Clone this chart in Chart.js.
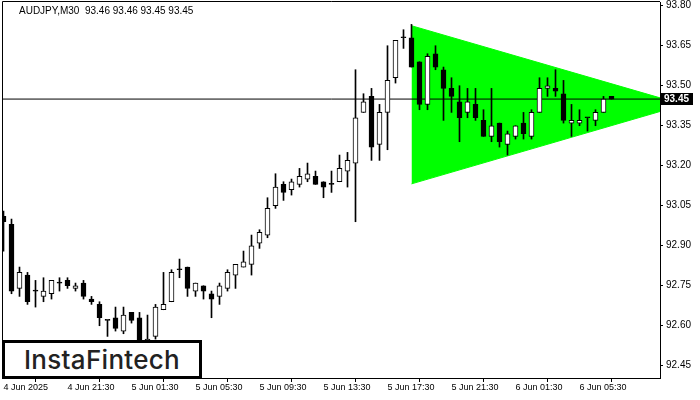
<!DOCTYPE html>
<html><head><meta charset="utf-8">
<script src="https://cdn.jsdelivr.net/npm/chart.js@4.4.1/dist/chart.umd.min.js"></script>
<style>
html,body{margin:0;padding:0;background:#fff;}
#wrap{position:relative;width:700px;height:400px;overflow:hidden;}
#c{display:block;}
#logo{position:absolute;left:2px;top:340px;width:194px;height:33px;border:3px solid #000;background:#fff;
font:500 26px Inter, "Noto Sans", sans-serif;color:#222;display:flex;align-items:center;justify-content:center;letter-spacing:0.3px;}
</style></head><body>
<div id="wrap"><canvas id="c" width="700" height="400" style="width:700px;height:400px"></canvas><div id="logo">InstaFintech</div></div>
<script>
const title = "AUDJPY,M30  93.46 93.46 93.45 93.45";
const xTickIdx = [0,8,16,24,32,40,48,56,64,72];
const xTickLabels = ["4 Jun 2025","4 Jun 21:30","5 Jun 01:30","5 Jun 05:30","5 Jun 09:30","5 Jun 13:30","5 Jun 17:30","5 Jun 21:30","6 Jun 01:30","6 Jun 05:30"];
const yTicks = [92.45,92.60,92.75,92.90,93.05,93.20,93.35,93.50,93.65,93.80];

const open = [93.01,92.98,92.74,92.79,92.73,92.71,92.72,92.76,92.77,92.74,
92.76,92.70,92.68,92.62,92.63,92.58,92.65,92.63,92.54,92.56,
92.66,92.69,92.81,92.82,92.73,92.75,92.72,92.71,92.74,92.79,
92.82,92.83,92.91,92.94,93.05,93.13,93.11,93.13,93.15,93.16,
93.14,93.13,93.14,93.18,93.21,93.40,93.46,93.28,93.40,93.53,
93.68,93.68,93.59,93.43,93.62,93.56,93.49,93.44,93.40,93.43,
93.37,93.31,93.36,93.28,93.31,93.36,93.31,93.40,93.49,93.49,
93.47,93.36,93.36,93.38,93.37,93.40,93.46];
const high = [93.03,93.00,92.82,92.80,92.77,92.78,92.77,92.78,92.78,92.76,
92.77,92.71,92.69,92.62,92.67,92.67,92.65,92.65,92.64,92.68,
92.80,92.81,92.85,92.82,92.76,92.75,92.73,92.76,92.81,92.83,
92.88,92.94,92.96,93.08,93.17,93.14,93.15,93.19,93.21,93.18,
93.14,93.18,93.24,93.25,93.56,93.47,93.49,93.43,93.65,93.67,
93.71,93.73,93.59,93.62,93.65,93.57,93.53,93.50,93.49,93.49,
93.41,93.49,93.36,93.33,93.35,93.40,93.41,93.53,93.53,93.56,
93.52,93.43,93.41,93.38,93.41,93.46,93.46];
const low = [92.88,92.72,92.71,92.68,92.67,92.69,92.70,92.73,92.74,92.73,
92.70,92.68,92.60,92.56,92.58,92.57,92.61,92.51,92.52,92.55,
92.66,92.69,92.78,92.71,92.71,92.70,92.63,92.68,92.73,92.74,
92.82,92.79,92.89,92.93,93.04,93.07,93.09,93.12,93.14,93.13,
93.08,93.10,93.14,93.12,92.99,93.40,93.22,93.22,93.26,93.51,
93.64,93.57,93.41,93.41,93.56,93.37,93.40,93.29,93.38,93.37,
93.31,93.29,93.27,93.24,93.30,93.30,93.30,93.40,93.46,93.46,
93.36,93.31,93.35,93.33,93.35,93.40,93.45];
const close = [92.99,92.73,92.80,92.69,92.73,92.73,92.77,92.76,92.75,92.75,
92.71,92.69,92.63,92.62,92.59,92.64,92.62,92.53,92.55,92.67,
92.68,92.80,92.81,92.74,92.76,92.73,92.70,92.75,92.80,92.83,
92.84,92.90,92.95,93.04,93.12,93.10,93.14,93.16,93.17,93.13,
93.12,93.13,93.19,93.22,93.38,93.44,93.27,93.40,93.52,93.67,
93.68,93.57,93.43,93.61,93.57,93.49,93.46,93.38,93.44,93.38,
93.31,93.35,93.29,93.32,93.35,93.32,93.40,93.49,93.50,93.48,
93.37,93.37,93.37,93.38,93.40,93.45,93.45];

// triangle pattern (start index, apex index) and its edges
const patternX = [51, 85];
const patternUpper = [93.725, 93.429];
const patternLower = [93.132, 93.429];

const X_MIN = -0.0625, X_MAX = 82.0625;
const Y_MIN = 92.404, Y_MAX = 93.814;
const bid = close[close.length-1];

const idx = open.map((_, i) => i);
const wicks = idx.map(i => ({x: i, y: [low[i], high[i]]}));
const bodies = idx.map(i => ({x: i, y: [open[i], close[i]]}));
const bodyColors = idx.map(i => close[i] > open[i] ? '#ffffff' : '#000000');

const framePlugin = {
  id: 'frame',
  afterDraw(chart) {
    const {ctx, chartArea: a} = chart;
    ctx.save();
    ctx.strokeStyle = '#000'; ctx.lineWidth = 1;
    ctx.beginPath();
    ctx.moveTo(a.left - 0.5, a.bottom); ctx.lineTo(a.left - 0.5, a.top - 0.5); ctx.lineTo(a.right, a.top - 0.5);
    ctx.stroke();
    ctx.fillStyle = '#000';
    ctx.font = '10px "Liberation Sans", Arial, sans-serif';
    ctx.textBaseline = 'middle'; ctx.textAlign = 'left';
    ctx.fillText(title, 19, 11);
    const y = Math.round(chart.scales.y.getPixelForValue(bid));
    ctx.fillStyle = '#000';
    ctx.fillRect(a.right + 1, y - 6, 32, 12);
    ctx.fillStyle = '#fff';
    ctx.font = 'bold 10px "Liberation Sans", Arial, sans-serif';
    ctx.fillText(bid.toFixed(2), a.right + 4, y + 0.5);
    ctx.restore();
  }
};

new Chart(document.getElementById('c'), {
  type: 'bar',
  data: {
    datasets: [
      { type: 'bar', data: bodies, order: 0, grouped: false, barThickness: 5, minBarLength: 1,
        backgroundColor: bodyColors, borderColor: '#000', borderWidth: 1, borderSkipped: false },
      { type: 'bar', data: wicks, order: 1, grouped: false, barThickness: 1,
        backgroundColor: '#000', borderWidth: 0 },
      { type: 'line', data: [{x: X_MIN, y: bid}, {x: X_MAX, y: bid}], order: 2,
        borderColor: '#000', borderWidth: 1, pointRadius: 0, fill: false },
      { type: 'line', data: patternX.map((x, k) => ({x, y: patternUpper[k]})), order: 4,
        borderColor: '#00ff00', borderWidth: 1, pointRadius: 0, fill: '+1', backgroundColor: '#00ff00', tension: 0 },
      { type: 'line', data: patternX.map((x, k) => ({x, y: patternLower[k]})), order: 3,
        borderColor: '#00ff00', borderWidth: 1, pointRadius: 0, fill: false, tension: 0 }
    ]
  },
  options: {
    responsive: false, animation: false, devicePixelRatio: 1, events: [],
    layout: { padding: { left: 3, top: 2, right: 0, bottom: 0 } },
    plugins: { legend: { display: false }, tooltip: { enabled: false }, title: { display: false } },
    scales: {
      x: {
        type: 'linear', position: 'bottom', min: X_MIN, max: X_MAX, offset: false,
        afterBuildTicks: s => { s.ticks = xTickIdx.map(v => ({value: v})); },
        afterFit: s => { s.height = 22; s.paddingLeft = 0; s.paddingRight = 0; s.paddingTop = 0; s.paddingBottom = 0; },
        grid: { display: true, drawOnChartArea: false, drawTicks: true, tickLength: 4, color: '#000' },
        border: { display: true, color: '#000' },
        ticks: { autoSkip: false, maxRotation: 0, align: 'start', padding: 0, color: '#000',
          font: { family: '"Liberation Sans", Arial, sans-serif', size: 9 },
          callback: (v, i) => xTickLabels[i] }
      },
      y: {
        type: 'linear', position: 'right', min: Y_MIN, max: Y_MAX,
        afterBuildTicks: s => { s.ticks = yTicks.map(v => ({value: v})); },
        afterFit: s => { s.width = 40; s.paddingTop = 0; s.paddingBottom = 0; s.paddingLeft = 0; s.paddingRight = 0; },
        grid: { display: true, drawOnChartArea: false, drawTicks: true, tickLength: 3, color: '#000' },
        border: { display: true, color: '#000' },
        ticks: { padding: 3, color: '#000', font: { family: '"Liberation Sans", Arial, sans-serif', size: 10 },
          callback: v => Number(v).toFixed(2) }
      }
    }
  },
  plugins: [framePlugin]
});
</script>
</body></html>
